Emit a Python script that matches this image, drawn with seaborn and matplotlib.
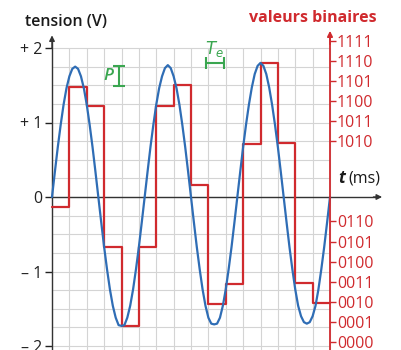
import numpy as np
import pandas as pd
import matplotlib.pyplot as plt
import seaborn as sns

# analog signal (V), read every 1/6 of Te
signal_v = [0, .34, .67, .97, 1.24, 1.46, 1.62, 1.72, 1.75, 1.72, 1.62, 1.46, 1.24, .97, .67, .34,
            0, -.34, -.67, -.97, -1.24, -1.46, -1.62, -1.72, -1.73, -1.72, -1.62, -1.46, -1.24, -.97, -.67, -.34,
            0, .34, .67, .97, 1.24, 1.46, 1.62, 1.73, 1.77, 1.73, 1.62, 1.46, 1.24, .97, .67, .34,
            0, -.34, -.67, -.97, -1.24, -1.46, -1.62, -1.70, -1.71, -1.70, -1.62, -1.46, -1.24, -.97, -.67, -.34,
            0, .34, .67, .97, 1.24, 1.47, 1.65, 1.76, 1.80, 1.76, 1.65, 1.47, 1.24, .97, .67, .34,
            0, -.34, -.67, -.97, -1.24, -1.46, -1.60, -1.68, -1.70, -1.68, -1.60, -1.46, -1.24, -.97, -.67, -.34,
            0]
# sampled / quantized levels (V), one per sampling period Te
sample_levels = [-0.13, 1.48, 1.22, -0.67, -1.73, -0.67, 1.22, 1.50,
                 0.16, -1.44, -1.17, 0.71, 1.80, 0.72, -1.15, -1.42]
# binary codes shown on the right axis
codes = [0, 1, 2, 3, 4, 5, 6, 10, 11, 12, 13, 14, 15]
left_ticks = [-2, -1, 0, 1, 2]
left_labels = ['– 2', '– 1', '0', '+ 1', '+ 2']

code0_v = -1.946   # voltage of code 0000
quantum = 0.2697   # P

blue = '#2f6db5'
red = '#d02a2e'
green = '#3aa650'

sns.set_style('white')
plt.rcParams['font.family'] = ['Open Sans', 'DejaVu Sans']

fig = plt.figure(figsize=(4.01, 3.5), dpi=100)
ax = fig.add_axes([0, 0, 1, 1])
ax.set_xlim(-52 / 17.375, (401 - 52) / 17.375)
ax.set_ylim((197 - 350) / 74.5, 197 / 74.5)

# grid
n = len(sample_levels)
ax.vlines(np.arange(n + 1), -2.06, 2, color='#d4d4d4', lw=0.8, zorder=0)
ax.hlines(np.arange(-2, 2.01, 0.25), 0, n, color='#d4d4d4', lw=0.8, zorder=0)

# curves
df_sig = pd.DataFrame({'t': np.arange(len(signal_v)) / 6, 'v': signal_v})
df_smp = pd.DataFrame({'t': np.arange(n + 1), 'v': sample_levels + sample_levels[-1:]})
sns.lineplot(data=df_smp, x='t', y='v', drawstyle='steps-post', color=red, lw=1.6, ax=ax, zorder=3)
sns.lineplot(data=df_sig, x='t', y='v', color=blue, lw=1.6, ax=ax, zorder=4)
ax.set_xlabel('')
ax.set_ylabel('')

# left axis
for s in ['top', 'right']:
    ax.spines[s].set_visible(False)
ax.spines['left'].set_position(('data', 0))
ax.spines['left'].set_bounds(-2.06, 2.1)
ax.spines['bottom'].set_position(('data', 0))
ax.spines['bottom'].set_bounds(0, 18.7)
for s in ['left', 'bottom']:
    ax.spines[s].set_color('#333333')
    ax.spines[s].set_linewidth(1.0)
ax.set_xticks([])
ax.set_yticks(left_ticks, left_labels)
ax.tick_params(axis='y', direction='out', length=5, width=1, colors='#222222', labelsize=11.5, pad=2)
ax.annotate('', xy=(0, 2.17), xytext=(0, 2.0),
            arrowprops=dict(arrowstyle='-|>', color='#333333', lw=1, mutation_scale=8, shrinkA=0, shrinkB=0))
ax.annotate('', xy=(19.0, 0), xytext=(18.5, 0),
            arrowprops=dict(arrowstyle='-|>', color='#333333', lw=1, mutation_scale=8, shrinkA=0, shrinkB=0))

# right axis (binary values)
ax2 = ax.twinx()
ax2.set_ylim(ax.get_ylim())
for s in ['top', 'left', 'bottom']:
    ax2.spines[s].set_visible(False)
ax2.spines['right'].set_position(('data', n))
ax2.spines['right'].set_bounds(-2.06, 2.15)
ax2.spines['right'].set_color(red)
ax2.spines['right'].set_linewidth(1.3)
ax2.set_yticks([code0_v + c * quantum for c in codes], [format(c, '04b') for c in codes])
ax2.tick_params(axis='y', direction='out', length=4, width=1, colors=red, labelsize=11.5, pad=1)
ax.annotate('', xy=(n, 2.23), xytext=(n, 2.05),
            arrowprops=dict(arrowstyle='-|>', color=red, lw=1.2, mutation_scale=8, shrinkA=0, shrinkB=0))

# labels
ax.text(-1.55, 2.35, 'tension (V)', fontsize=11.5, fontweight='semibold', color='#1a1a1a', va='center')
ax.text(15.0, 2.40, 'valeurs binaires', fontsize=11.5, fontweight='bold', color=red, va='center', ha='center')
ax.text(16.45, 0.25, 't', fontsize=12, fontweight='bold', style='italic', color='#1a1a1a', va='center')
ax.text(17.05, 0.25, '(ms)', fontsize=11.5, color='#1a1a1a', va='center')

# P and Te markers
ax.plot([3.86, 3.86], [1.49, 1.76], color=green, lw=1.5, marker='_', ms=8, mew=1.5)
ax.text(2.95, 1.62, 'P', fontsize=12.5, style='italic', fontweight='semibold', color=green, va='center')
ax.plot([8.85, 9.9], [1.80, 1.80], color=green, lw=1.5, marker='|', ms=8, mew=1.5)
ax.text(9.35, 1.98, r'$T_e$', fontsize=12, color=green, va='center', ha='center')

fig.savefig('out.png', dpi=100)
